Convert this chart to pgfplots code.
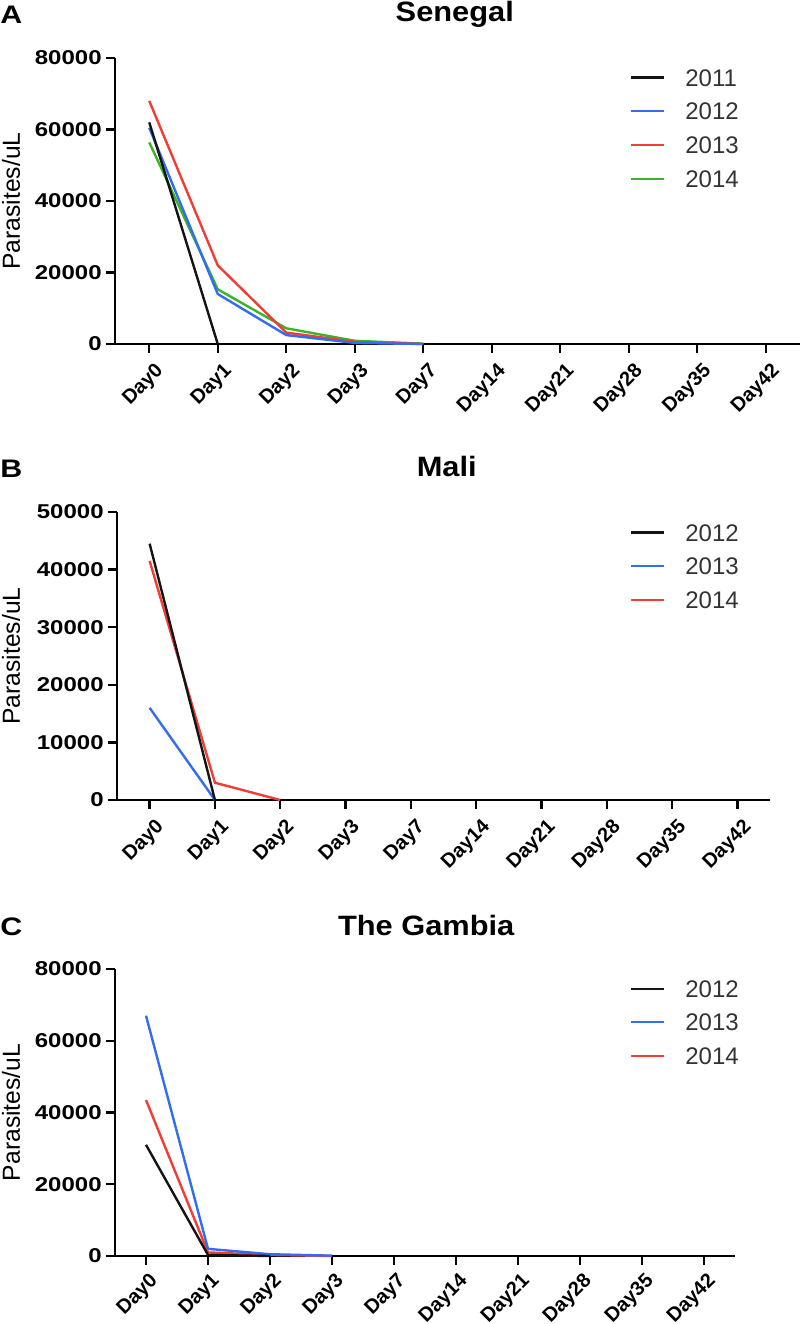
\documentclass[border=0pt]{standalone}
\usepackage{fontspec}
\setmainfont{Liberation Sans}
\newfontfamily\tickfont{Liberation Sans}[FakeStretch=1.2]
\newfontfamily\titlefont{Liberation Sans}[FakeStretch=1.1]
\usepackage{pgfplots}
\pgfplotsset{compat=1.18}
\definecolor{cblue}{RGB}{50,108,240}
\definecolor{cred}{RGB}{240,62,52}
\definecolor{cgreen}{RGB}{60,180,40}
\definecolor{cblack}{RGB}{20,20,20}

\pgfplotsset{
 every axis title shift=0pt,
 panel/.style={
  scale only axis,
  anchor=south west,
  xmin=-0.5, xmax=9.5, ymin=0,
  axis x line*=bottom, axis y line*=left,
  axis line style={line width=1.8pt, black},
  x axis line style={shorten <=-6.5pt},
  every tick/.style={line width=1.8pt, black},
  major tick length=6.5pt,
  tick align=outside,
  xtick={0,...,9},
  xticklabels={Day0,Day1,Day2,Day3,Day7,Day14,Day21,Day28,Day35,Day42},
  xticklabel style={rotate=45, anchor=north east, yshift=-4pt, xshift=1pt, font=\bfseries\fontsize{15}{18}\selectfont},
  yticklabel style={font=\tickfont\bfseries\fontsize{15}{18}\selectfont},
  /pgf/number format/assume math mode=true,
  /pgf/number format/set thousands separator={},
  scaled y ticks=false,
  ylabel={Parasites/uL},
  title style={font=\titlefont\bfseries\fontsize{21}{25}\selectfont, anchor=base, yshift=0pt},
  legend style={draw=none, fill=none, anchor=north west,
    font=\fontsize{18}{22}\selectfont, text=black!80, inner sep=0pt,
    row sep=12.3pt,
    nodes={inner sep=0pt, text height=13pt, text depth=0pt},
    /tikz/every odd column/.append style={column sep=15pt}},
  legend cell align=left,
  reverse legend,
  legend image code/.code={\draw[#1, line width=1.6pt] (0pt,0pt) -- (24.75pt,0pt);},
  every axis plot/.append style={line width=1.8pt, no markers},
  clip=false,
 }
}

\begin{document}
\begin{tikzpicture}
\path[use as bounding box] (0,0) rectangle (600pt,-993pt);

\node[anchor=base west, inner sep=0pt, font=\tickfont\bfseries\fontsize{19}{23}\selectfont] at (0pt,-17.25pt) {A};
\node[anchor=base west, inner sep=0pt, font=\tickfont\bfseries\fontsize{19}{23}\selectfont] at (0pt,-357.75pt) {B};
\node[anchor=base west, inner sep=0pt, font=\tickfont\bfseries\fontsize{19}{23}\selectfont] at (0pt,-701.25pt) {C};

% Panel A: Senegal
\begin{axis}[panel,
  at={(86.25pt,-258pt)}, width=513.75pt, height=214.5pt,
  ymax=80000, ytick={0,20000,40000,60000,80000},
  title={Senegal}, title style={at={(axis description cs:0.496,1.129)}},
  ylabel style={at={(axis description cs:-0.1518,0.5)}, anchor=center, font=\fontsize{18.5}{22}\selectfont},
  legend style={at={(axis description cs:0.7518,0.963)}}]
\addplot[cgreen] coordinates {(0,56400) (1,15300) (2,4400) (3,900) (4,100)};
\addlegendentry{2014}
\addplot[cred] coordinates {(0,68000) (1,22000) (2,3200) (3,600) (4,0)};
\addlegendentry{2013}
\addplot[cblue] coordinates {(0,60500) (1,14000) (2,2500) (3,300) (4,0)};
\addlegendentry{2012}
\addplot[cblack] coordinates {(0,62000) (1,0)};
\addlegendentry{2011}
\end{axis}

% Panel B: Mali
\begin{axis}[panel,
  at={(87.75pt,-600pt)}, width=489.75pt, height=216pt,
  ymax=50000, ytick={0,10000,20000,30000,40000,50000},
  title={Mali}, title style={at={(axis description cs:0.505,1.125)}},
  ylabel style={at={(axis description cs:-0.1623,0.5)}, anchor=center, font=\fontsize{18.5}{22}\selectfont},
  legend style={at={(axis description cs:0.7856,0.960)}}]
\addplot[cred] coordinates {(0,41500) (1,3000) (2,0)};
\addlegendentry{2014}
\addplot[cblue] coordinates {(0,16000) (1,0)};
\addlegendentry{2013}
\addplot[cblack] coordinates {(0,44500) (1,0)};
\addlegendentry{2012}
\end{axis}

% Panel C: The Gambia
\begin{axis}[panel,
  at={(86.25pt,-942pt)}, width=465pt, height=215.25pt,
  ymax=80000, ytick={0,20000,40000,60000,80000},
  xticklabel style={yshift=2.5pt},
  title={The Gambia}, title style={at={(axis description cs:0.502,1.118)}},
  ylabel style={at={(axis description cs:-0.1677,0.5)}, anchor=center, font=\fontsize{18.5}{22}\selectfont},
  legend style={at={(axis description cs:0.8306,0.963)}}]
\addplot[cred] coordinates {(0,43500) (1,1000) (2,300) (3,0)};
\addlegendentry{2014}
\addplot[cblue] coordinates {(0,67000) (1,2000) (2,500) (3,100)};
\addlegendentry{2013}
\addplot[cblack] coordinates {(0,31000) (1,300) (2,0)};
\addlegendentry{2012}
\end{axis}
\end{tikzpicture}
\end{document}
